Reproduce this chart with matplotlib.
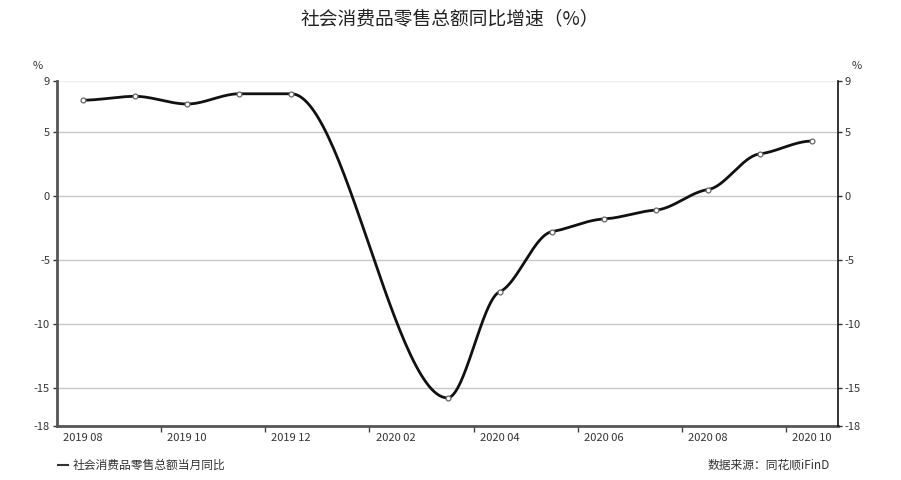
import numpy as np
import matplotlib
matplotlib.use("Agg")
import matplotlib.pyplot as plt
from matplotlib.ticker import FixedLocator

plt.rcParams['font.family'] = ['Noto Sans CJK SC', 'DejaVu Sans']

months = ["2019 08", "2019 09", "2019 10", "2019 11", "2019 12",
          "2020 01", "2020 02", "2020 03", "2020 04", "2020 05",
          "2020 06", "2020 07", "2020 08", "2020 09", "2020 10"]
values = [7.5, 7.8, 7.2, 8.0, 8.0,
          np.nan, np.nan, -15.8, -7.5, -2.8,
          -1.8, -1.1, 0.5, 3.3, 4.3]
yticks = [9, 5, 0, -5, -10, -15, -18]
title = "社会消费品零售总额同比增速（%）"
series_name = "社会消费品零售总额当月同比"
source = "数据来源：同花顺iFinD"


def smooth(xs, ys, k=0.25, n=60):
    m = len(xs)
    slopes = np.zeros(m)
    for i in range(1, m - 1):
        s0 = (ys[i] - ys[i - 1]) / (xs[i] - xs[i - 1])
        s1 = (ys[i + 1] - ys[i]) / (xs[i + 1] - xs[i])
        if s0 * s1 > 0:
            slopes[i] = k * (ys[i + 1] - ys[i - 1]) / (xs[i + 1] - xs[i - 1])
    px, py = [], []
    for i in range(m - 1):
        dx = xs[i + 1] - xs[i]
        c1 = (xs[i] + dx / 3, ys[i] + slopes[i] * dx / 3)
        c2 = (xs[i + 1] - dx / 3, ys[i + 1] - slopes[i + 1] * dx / 3)
        t = np.linspace(0, 1, n)
        bx = (1 - t) ** 3 * xs[i] + 3 * (1 - t) ** 2 * t * c1[0] + 3 * (1 - t) * t ** 2 * c2[0] + t ** 3 * xs[i + 1]
        by = (1 - t) ** 3 * ys[i] + 3 * (1 - t) ** 2 * t * c1[1] + 3 * (1 - t) * t ** 2 * c2[1] + t ** 3 * ys[i + 1]
        if i > 0:
            bx, by = bx[1:], by[1:]
        px.append(bx)
        py.append(by)
    return np.concatenate(px), np.concatenate(py)


x = np.arange(len(months))
v = np.array(values, dtype=float)
mask = ~np.isnan(v)
sx, sy = smooth(x[mask].astype(float), v[mask])

fig = plt.figure(figsize=(9.01, 4.8), dpi=100)
ax = fig.add_axes([57 / 901, 1 - 426 / 480, (838 - 57) / 901, (426 - 81) / 480])

ax.plot(sx, sy, color='#111111', lw=2.0, zorder=3, solid_capstyle='round')
ax.plot(x[mask], v[mask], ls='none', marker='o', ms=3.5, mfc='white',
        mec='#666666', mew=0.9, zorder=4)

ax.set_xlim(-0.5, len(months) - 0.5)
ax.set_ylim(-18, 9)

ax.set_yticks(yticks)
ax.set_yticklabels([str(t) for t in yticks])
for t in [5, 0, -5, -10, -15]:
    ax.axhline(t, color='#c8c8c8', lw=1.0, zorder=1)
ax.axhline(9, color='#eeeeee', lw=1.0, zorder=1)

ax.xaxis.set_major_locator(FixedLocator(list(x[::2])))
ax.set_xticklabels(months[::2])
ax.xaxis.set_minor_locator(FixedLocator([i + 0.5 for i in range(1, len(months) - 1, 2)]))
ax.tick_params(axis='x', which='major', length=0, labelsize=8, pad=5, colors='#333333')
ax.tick_params(axis='x', which='minor', length=4, width=1, color='#444444', direction='out')
ax.tick_params(axis='y', which='major', length=3, width=1, labelsize=8, colors='#333333', pad=2)

ax.spines['top'].set_visible(False)
ax.spines['right'].set_visible(False)
ax.spines['left'].set_color('#555555')
ax.spines['left'].set_linewidth(2)
ax.spines['bottom'].set_color('#555555')
ax.spines['bottom'].set_linewidth(2)

ax2 = ax.twinx()
ax2.set_ylim(-18, 9)
ax2.set_yticks(yticks)
ax2.set_yticklabels([str(t) for t in yticks])
ax2.tick_params(axis='y', length=3, width=1, labelsize=8, colors='#333333', pad=2)
for s in ['top', 'left', 'bottom']:
    ax2.spines[s].set_visible(False)
ax2.spines['right'].set_color('#111111')
ax2.spines['right'].set_linewidth(1.2)

fig.text(38 / 901, 1 - 66 / 480, "%", fontsize=8, color='#333333', ha='center', va='center')
fig.text(857 / 901, 1 - 66 / 480, "%", fontsize=8, color='#333333', ha='center', va='center')

fig.text(450 / 901, 1 - 20 / 480, title, fontsize=13.5, color='#222222', ha='center', va='center')

fig.lines.append(plt.Line2D([58 / 901, 68 / 901], [1 - 465 / 480, 1 - 465 / 480],
                            transform=fig.transFigure, color='#333333', lw=1.5))
fig.text(73 / 901, 1 - 465 / 480, series_name, fontsize=8.5, color='#333333', ha='left', va='center')
fig.text(830 / 901, 1 - 465 / 480, source, fontsize=8.5, color='#333333', ha='right', va='center')

fig.savefig("out.png", dpi=100)
